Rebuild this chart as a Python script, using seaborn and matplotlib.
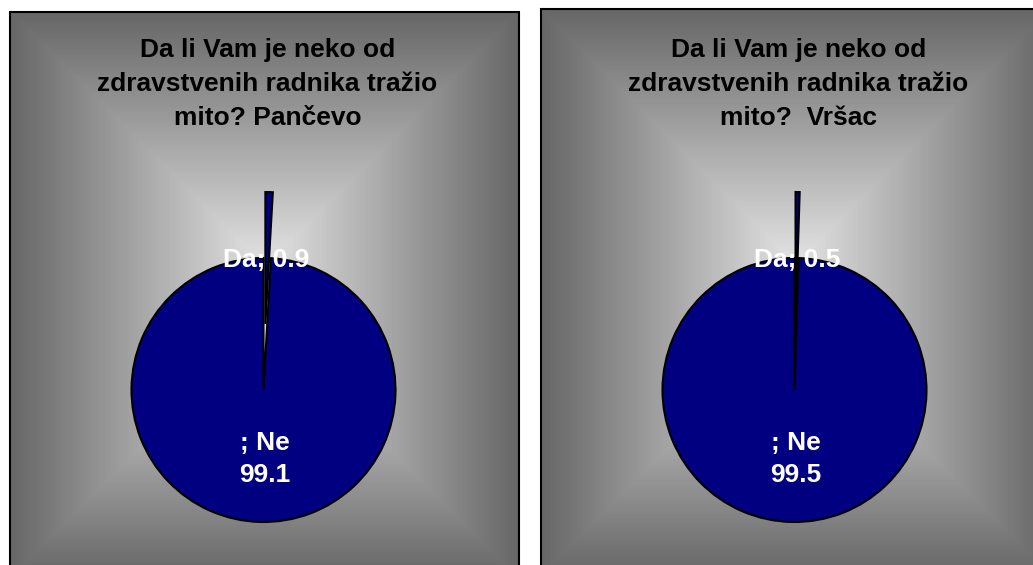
import numpy as np
import matplotlib
matplotlib.use('Agg')
import matplotlib.pyplot as plt
from matplotlib.patches import Rectangle
import seaborn as sns

# Podaci (procenti)
cities = ['Pančevo', 'Vršac']
answers = ['Da', 'Ne']
pancevo_values = [0.9, 99.1]
vrsac_values = [0.5, 99.5]
titles = ['Da li Vam je neko od\nzdravstvenih radnika tražio\nmito? Pančevo',
          'Da li Vam je neko od\nzdravstvenih radnika tražio\nmito?  Vršac']

W, H = 1033, 565
NAVY = '#000080'

sns.set_theme(style='white')
plt.rcParams['font.family'] = ['Liberation Sans', 'DejaVu Sans']


def panel_background(ax, left, top, width, height):
    # "from center" pravougaoni gradijent: svetlo u sredini, sivo na ivicama
    xs = np.arange(width) + 0.5
    ys = np.arange(height) + 0.5
    X, Y = np.meshgrid(xs, ys)
    hw, hh = width / 2, height / 2
    m = min(hw, hh)
    t = np.maximum(np.abs(X - hw) - (hw - m), np.abs(Y - hh) - (hh - m)) / m
    t = np.clip(t, 0, 1)
    val = 0.89 - t * 0.49
    ax.imshow(val, cmap='gray', vmin=0, vmax=1, origin='upper',
              extent=(left, left + width, H - top - height, H - top),
              interpolation='bilinear', zorder=0)
    ax.add_patch(Rectangle((left, H - top - height), width, height, fill=False,
                           edgecolor='black', linewidth=1.5, zorder=1))


def draw_panel(ax, left, top, values, title):
    width, height = 509, 566
    panel_background(ax, left, top, width, height)
    cx = left + width / 2 - 1
    cy = H - 390
    r = 132
    wedges, _ = ax.pie(values, colors=[NAVY, NAVY], startangle=90, counterclock=False,
                       center=(cx, cy), radius=r, explode=[r * 0.5, 0], frame=True,
                       wedgeprops=dict(edgecolor='black', linewidth=1.5))
    for w in wedges:
        w.set_zorder(2)
    ax.text(cx + 4, H - 84, title, ha='center', va='center', fontsize=19, fontweight='bold',
            color='black', linespacing=1.55, zorder=3)
    ax.text(cx + 3, cy + r - 2, f'{answers[0]}; {values[0]}', ha='center', va='center',
            fontsize=19, fontweight='bold', color='white', zorder=3)
    ax.text(cx + 1, cy - 69, f'; {answers[1]}\n{values[1]}', ha='center', va='center',
            fontsize=19, fontweight='bold', color='white', linespacing=1.45, zorder=3)


fig = plt.figure(figsize=(W / 100, H / 100), dpi=100)
fig.patch.set_facecolor('white')
ax = fig.add_axes([0, 0, 1, 1])

draw_panel(ax, 10, 12, pancevo_values, titles[0])
draw_panel(ax, 541, 9, vrsac_values, titles[1])

ax.set_xlim(0, W)
ax.set_ylim(0, H)
ax.set_aspect('equal')
ax.axis('off')

fig.savefig('out.png', dpi=100, facecolor='white')
